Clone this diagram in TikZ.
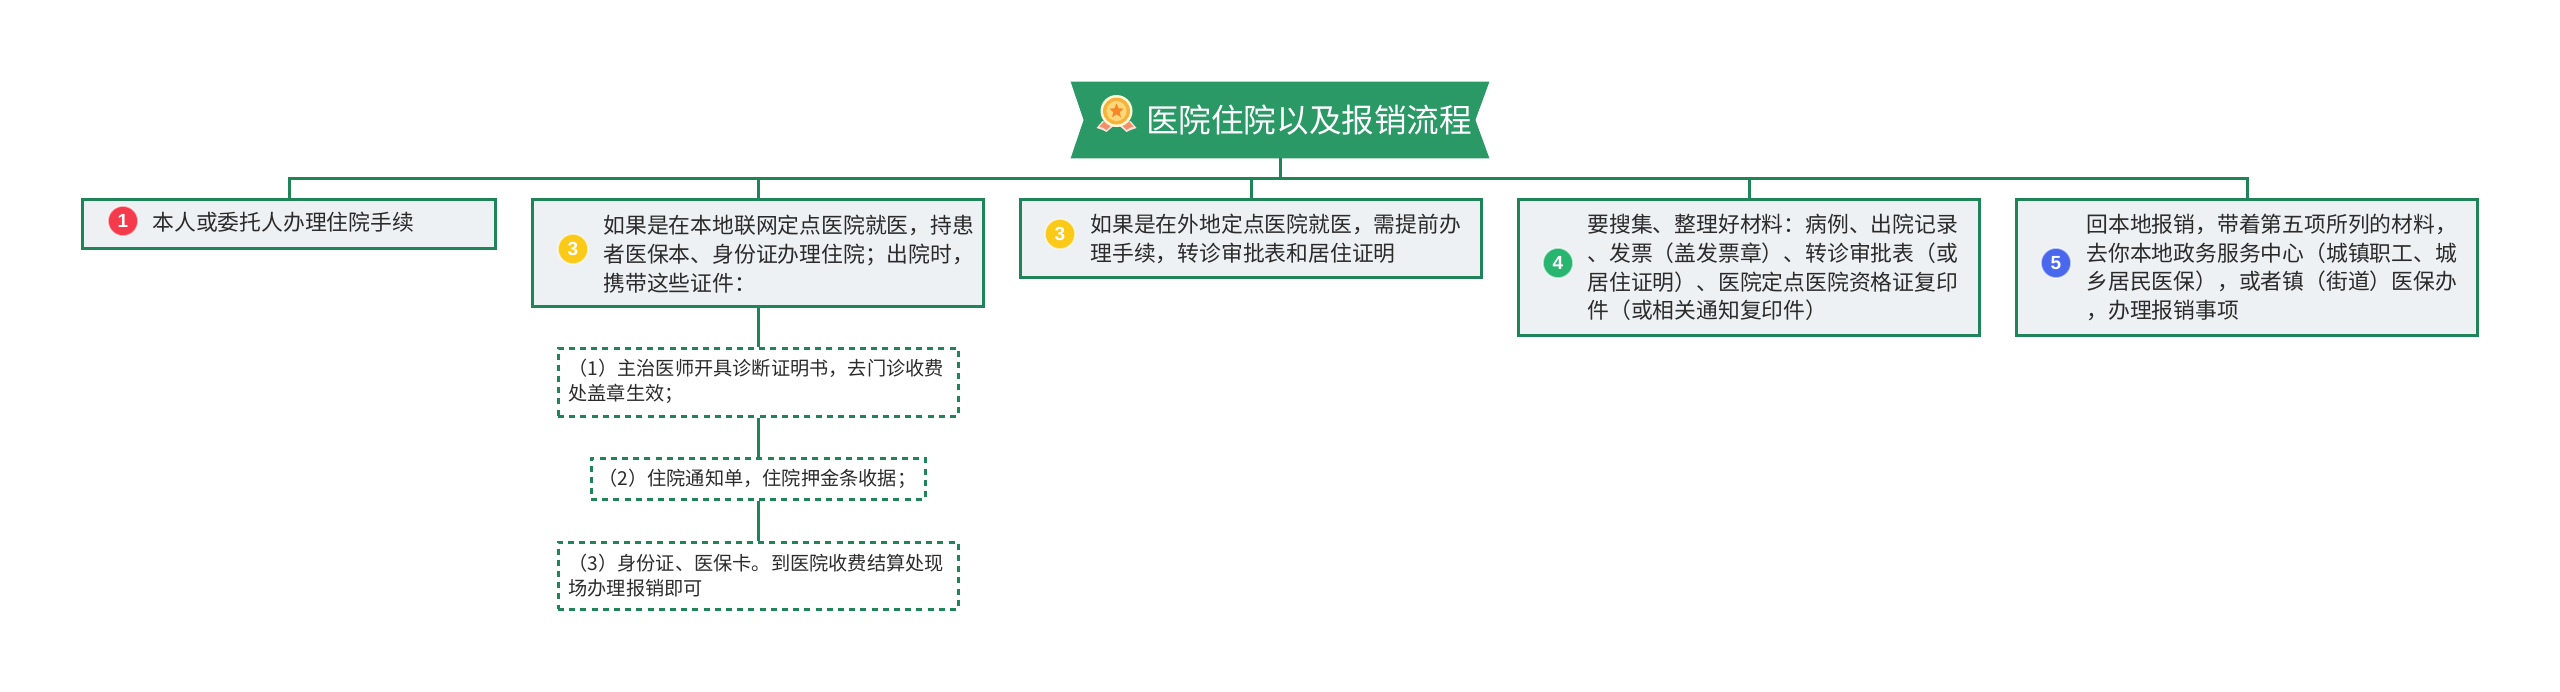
\documentclass[tikz,border=0pt]{standalone}
\usepackage{fontspec}
\setmainfont{Noto Sans CJK SC}
\newfontfamily\digitfont{Liberation Sans}
\usepackage{xcolor}
\usetikzlibrary{positioning, shapes.geometric, backgrounds, calc}
\definecolor{treegreen}{HTML}{2A9966}
\definecolor{edgegreen}{HTML}{1F8558}
\definecolor{leaffill}{HTML}{EEF1F4}
\definecolor{inkgray}{HTML}{2B2B2B}
\definecolor{badgered}{HTML}{F53B4B}
\definecolor{badgeyellow}{HTML}{FBC918}
\definecolor{badgegreen}{HTML}{27B56F}
\definecolor{badgeblue}{HTML}{4A68EE}
\definecolor{medalring}{HTML}{F8B23C}
\definecolor{medalcore}{HTML}{FCD878}
\definecolor{medalstarc}{HTML}{F5862A}
\definecolor{medalband}{HTML}{F58F6A}

\begin{document}
\begin{tikzpicture}[
  x=0.5pt, y=-0.5pt,
  link/.style={edgegreen, line width=1.5pt},
  roottitle/.style={minimum width=209pt, minimum height=38pt, inner xsep=8.5pt, inner ysep=0pt,
    text width=192pt, align=right, text=white, font=\fontsize{16.3}{20}\selectfont},
  leafbox/.style={draw=edgegreen, fill=leaffill, line width=1.6pt, inner sep=0pt},
  subbox/.style={draw=edgegreen, line width=1.5pt, dash pattern=on 3pt off 2.6pt, inner sep=0pt},
  leaftext/.style={anchor=west, inner sep=0pt, align=left, text=inkgray, font=\fontsize{10.9}{14.4}\selectfont},
  subtext/.style={anchor=west, inner sep=0pt, align=left, text=inkgray, font=\fontsize{9.6}{12.2}\selectfont},
  badge/.style={circle, minimum size=15pt, inner sep=0pt, draw=white, draw opacity=0.6, line width=0.8pt,
    text=white, font=\digitfont\bfseries\fontsize{9.5}{9.5}\selectfont}]
\useasboundingbox (0,0) rectangle (2560,691);
% title banner
\node[roottitle] (root) at (1280,120) {医院住院以及报销流程};
\begin{scope}[on background layer]
  \fill[treegreen] (root.north west) -- (root.north east) -- ($(root.east)+(-14,0)$) -- (root.south east)
    -- (root.south west) -- ($(root.west)+(13,0)$) -- cycle;
\end{scope}
% medal icon
\begin{scope}[shift={(1.5,1)}]
\fill[white!75!medalband] (1101,120) -- (1095,127) -- (1101,129) -- (1105,131) -- (1113,124) -- cycle;
\fill[white!75!medalband] (1129,120) -- (1135,127) -- (1129,129) -- (1125,131) -- (1117,124) -- cycle;
\fill[medalband] (1103,120) -- (1098,125.5) -- (1102,127) -- (1105,129) -- (1111,123) -- cycle;
\fill[medalband] (1127,120) -- (1132,125.5) -- (1128,127) -- (1125,129) -- (1119,123) -- cycle;
\fill[white!85!yellow] (1115,110) circle (16);
\fill[medalring] (1115,110) circle (13.5);
\fill[medalcore] (1115,110) circle (10);
\node[star, star points=5, star point ratio=2.2, fill=medalstarc, minimum size=7.5pt, inner sep=0pt] (medalstar) at (1115,110) {};
\end{scope}
% first level boxes
\node[leafbox, minimum width=206.5pt, minimum height=24.5pt] (leaf1) at (289,224) {};
\node[leafbox, minimum width=225.5pt, minimum height=53.5pt] (leaf2) at (758,253) {};
\node[leafbox, minimum width=230.5pt, minimum height=39pt] (leaf3) at (1251,238.5) {};
\node[leafbox, minimum width=230.5pt, minimum height=68pt] (leaf4) at (1749,267.5) {};
\node[leafbox, minimum width=230.5pt, minimum height=68pt] (leaf5) at (2247,267.5) {};
% dashed boxes below the second one
\node[subbox, minimum width=200pt, minimum height=34pt] (sub1) at (758,382) {};
\node[subbox, minimum width=167pt, minimum height=20.5pt] (sub2) at (758,478.5) {};
\node[subbox, minimum width=200pt, minimum height=33.5pt] (sub3) at (758,575.5) {};
% connectors
\coordinate (bus) at (1280,178);
\draw[link] (root.south) -- (bus);
\foreach \leaf in {leaf1,leaf2,leaf3,leaf4,leaf5}{
  \draw[link] (bus) -| (\leaf.north);
}
\draw[link] (leaf2.south) -- (sub1.north);
\draw[link] (sub1.south) -- (sub2.north);
\draw[link] (sub2.south) -- (sub3.north);
% number badges
\node[badge, fill=badgered] (badge1) at (123,221) {1};
\node[badge, fill=badgeyellow] (badge2) at (573,249) {3};
\node[badge, fill=badgeyellow] (badge3) at (1060,234) {3};
\node[badge, fill=badgegreen] (badge4) at (1558,263) {4};
\node[badge, fill=badgeblue] (badge5) at (2056,263) {5};
% box texts
\node[leaftext] (text1) at (152,222) {本人或委托人办理住院手续};
\node[leaftext] (text2) at (603,254) {如果是在本地联网定点医院就医，持患\\者医保本、身份证办理住院；出院时，\\携带这些证件：};
\node[leaftext] (text3) at (1090,239) {如果是在外地定点医院就医，需提前办\\理手续，转诊审批表和居住证明};
\node[leaftext] (text4) at (1587,267.5) {要搜集、整理好材料：病例、出院记录\\、发票（盖发票章）、转诊审批表（或\\居住证明）、医院定点医院资格证复印\\件（或相关通知复印件）};
\node[leaftext] (text5) at (2086,267.5) {回本地报销，带着第五项所列的材料，\\去你本地政务服务中心（城镇职工、城\\乡居民医保），或者镇（街道）医保办\\，办理报销事项};
\node[subtext] (subtext1) at (568,381.5) {（1）主治医师开具诊断证明书，去门诊收费\\处盖章生效；};
\node[subtext] (subtext2) at (598,478.5) {（2）住院通知单，住院押金条收据；};
\node[subtext] (subtext3) at (568,575.5) {（3）身份证、医保卡。到医院收费结算处现\\场办理报销即可};
\end{tikzpicture}
\end{document}
